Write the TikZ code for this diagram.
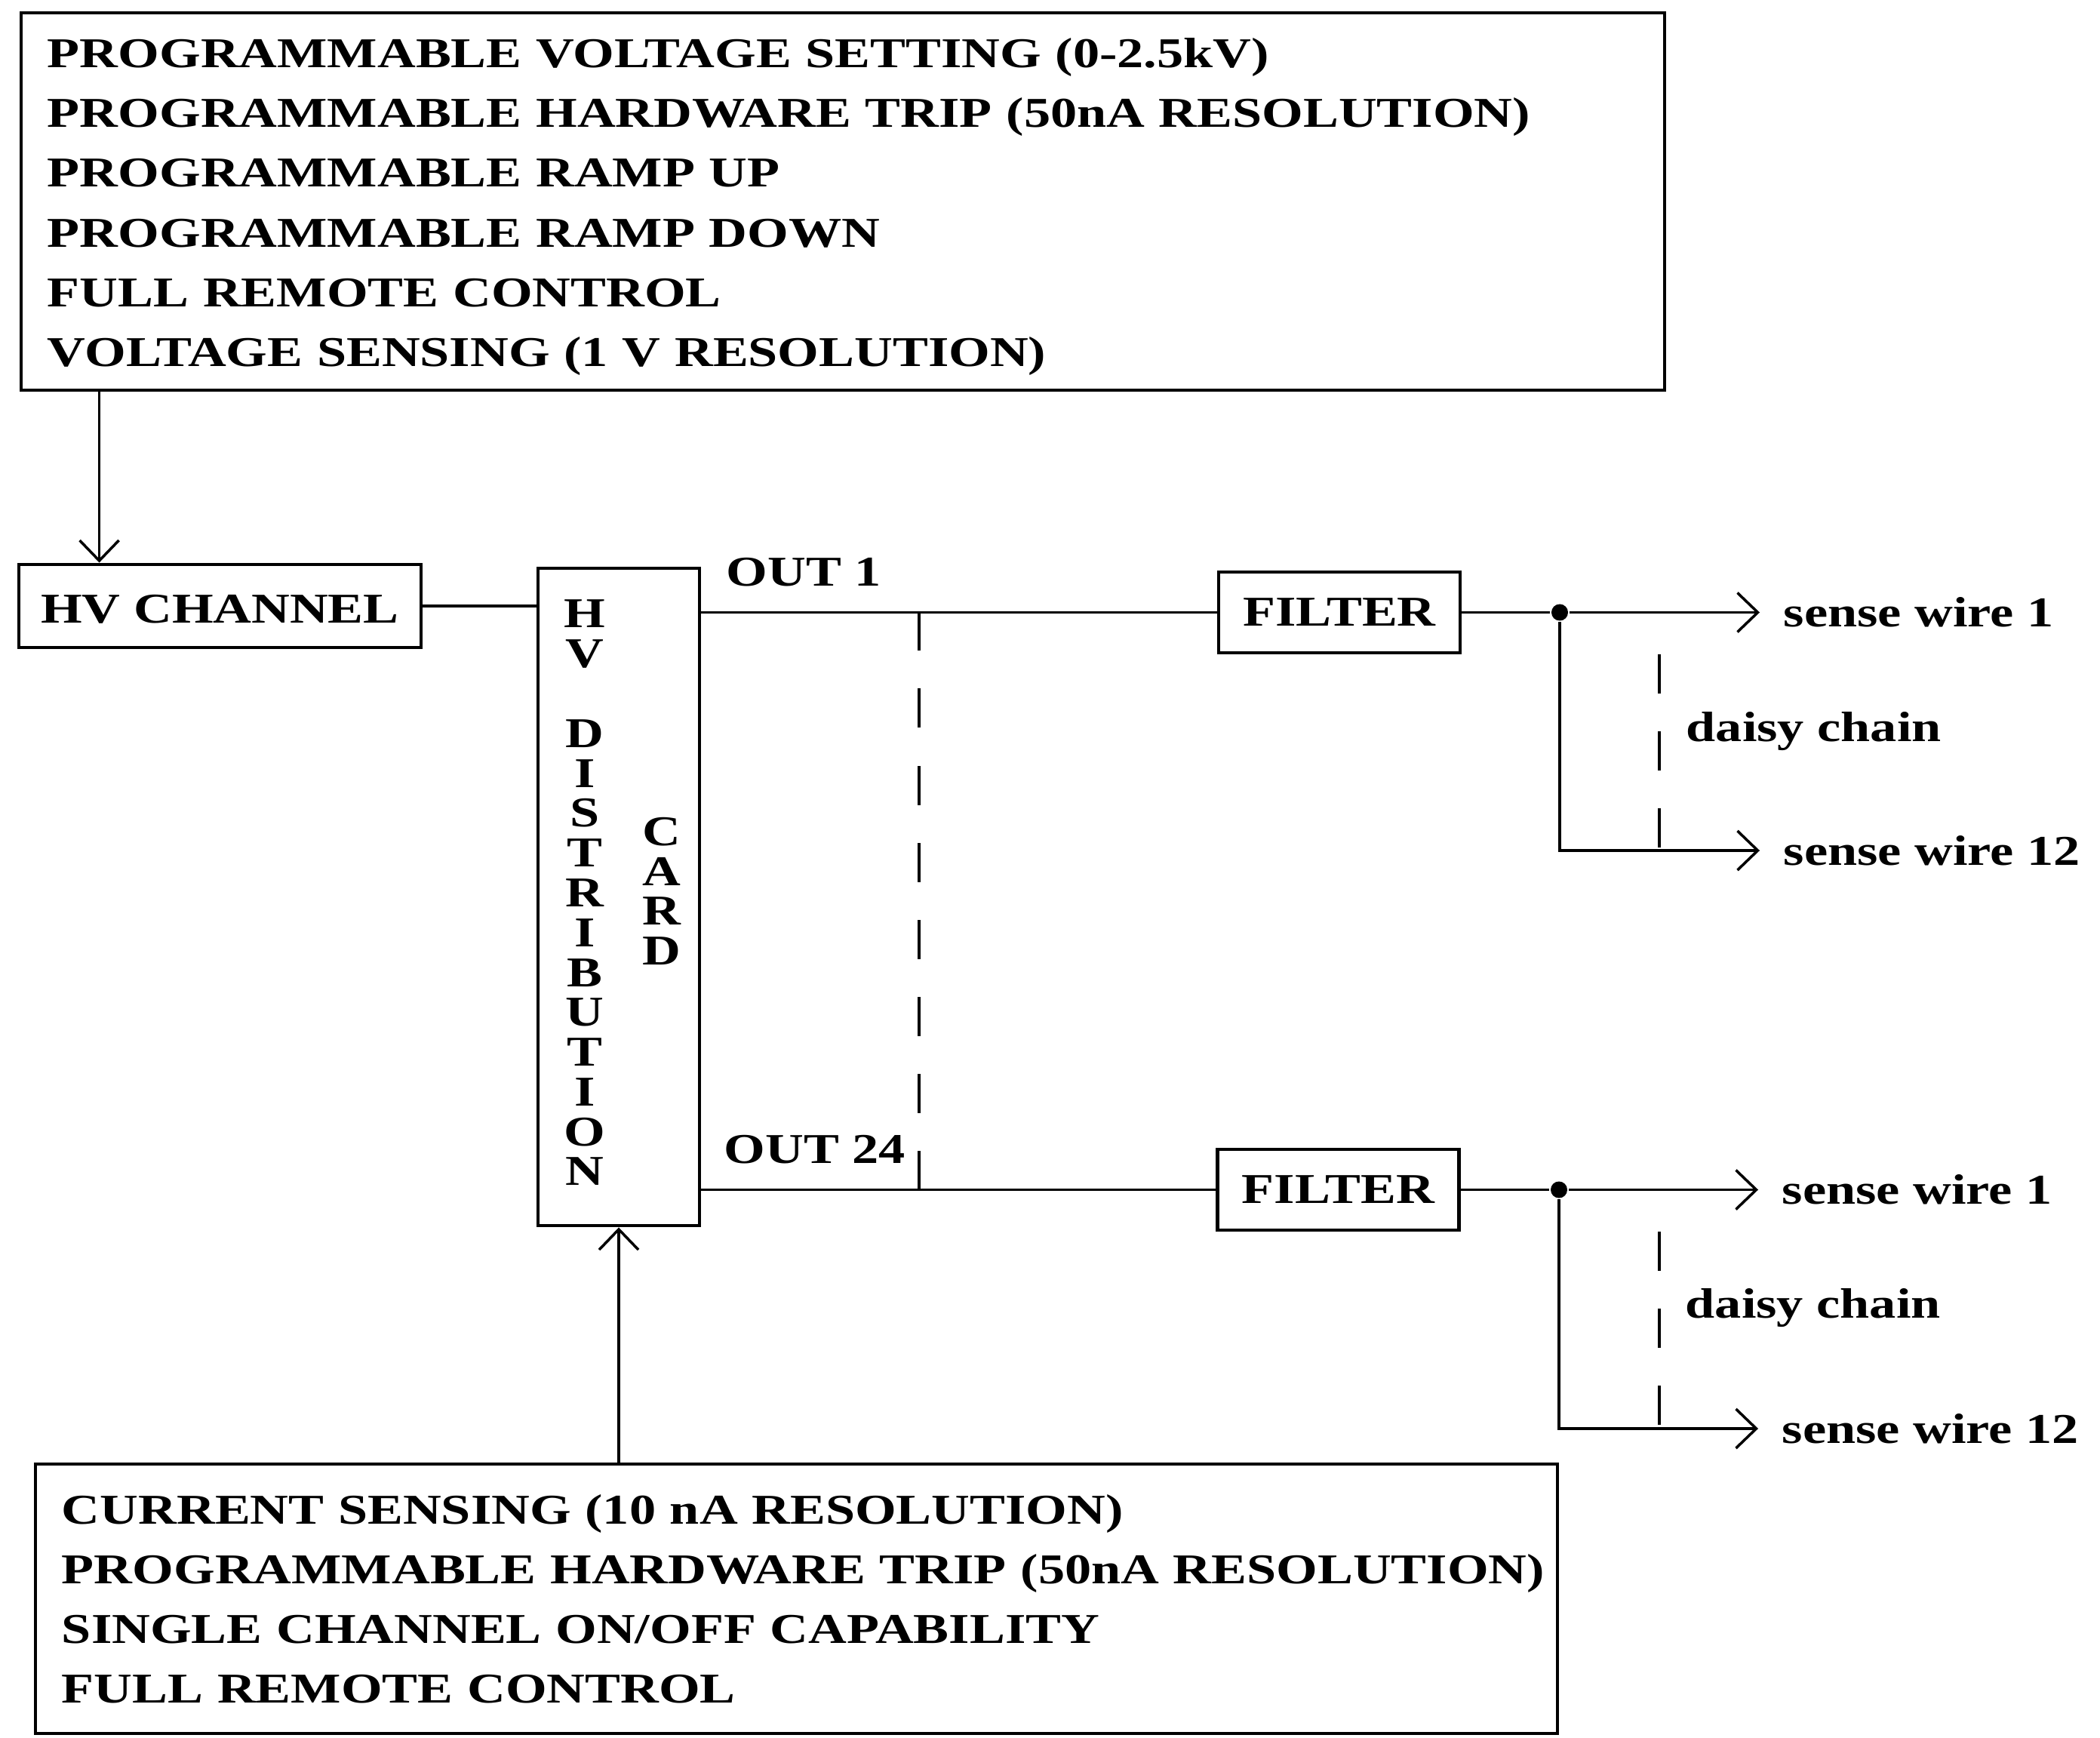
\documentclass[tikz,border=0pt]{standalone}
\usepackage{fontspec}
\setmainfont{Liberation Serif}[FakeStretch=1.25]
\usetikzlibrary{arrows.meta}

\begin{document}
\begin{tikzpicture}[
  txt/.style={font=\bfseries\fontsize{16}{22.5}\selectfont},
  box/.style={draw, line width=1.4pt, txt, inner sep=0pt},
  feat/.style={box, align=left, inner xsep=0.35cm},
  lbl/.style={txt, inner sep=0pt},
  letters/.style={lbl, align=center, font=\bfseries\fontsize{16}{15.02}\selectfont},
  wire/.style={txt, anchor=west, inner sep=0pt, inner xsep=0.3cm},
  dot/.style={circle, fill, inner sep=0pt, minimum size=0.22cm},
  feed/.style={-{Straight Barb[length=0.27cm,width=0.52cm]}},
  chain/.style={dash pattern=on 0.52cm off 0.5cm},
  line width=1pt]

 \useasboundingbox (0,0) rectangle (27.83,23.02);

 \node[feat, text width=21.08cm, text height=0.53cm, minimum height=5cm] (features) at (11.17,20.35)
  {PROGRAMMABLE VOLTAGE SETTING (0-2.5kV)\\
   PROGRAMMABLE HARDWARE TRIP (50nA RESOLUTION)\\
   PROGRAMMABLE RAMP UP\\
   PROGRAMMABLE RAMP DOWN\\
   FULL REMOTE CONTROL\\
   VOLTAGE SENSING (1 V RESOLUTION)};
 \node[box, minimum width=5.33cm, minimum height=1.1cm, text height=0.45cm] (hvch) at (2.915,14.99) {HV CHANNEL};
 \node[box, minimum width=2.14cm, minimum height=8.71cm] (card) at (8.2,11.135) {};
 \node[letters] (distr) at (7.75,11.19) {H\\V\\\mbox{}\\D\\I\\S\\T\\R\\I\\B\\U\\T\\I\\O\\N};
 \node[letters] (cardlbl) at (8.77,11.21) {C\\A\\R\\D};
 \node[box, minimum width=3.2cm, minimum height=1.07cm] (filter1) at (17.75,14.905) {FILTER};
 \node[box, minimum width=3.2cm, minimum height=1.07cm] (filter2) at (17.735,7.255) {FILTER};
 \node[lbl, anchor=base west] (out1) at (9.61,15.25) {OUT 1};
 \node[lbl, anchor=base west] (out24) at (9.58,7.61) {OUT 24};
 \node[dot] (j1) at (20.67,14.905) {};
 \node[dot] (j2) at (20.66,7.255) {};
 \node[wire] (sw1a) at (23.32,14.905) {sense wire 1};
 \node[wire] (sw12a) at (23.32,11.75) {sense wire 12};
 \node[wire] (sw1b) at (23.3,7.255) {sense wire 1};
 \node[wire] (sw12b) at (23.3,4.09) {sense wire 12};
 \node[lbl, anchor=west] (dc1) at (22.33,13.33) {daisy chain};
 \node[lbl, anchor=west] (dc2) at (22.32,5.69) {daisy chain};
 \node[feat, text width=19.47cm, minimum height=3.57cm] (ctrl) at (10.555,1.835)
  {CURRENT SENSING (10 nA RESOLUTION)\\
   \mbox{PROGRAMMABLE HARDWARE TRIP (50nA RESOLUTION)}\\
   SINGLE CHANNEL ON/OFF CAPABILITY\\
   FULL REMOTE CONTROL};

 \coordinate (vin) at ([xshift=1.09cm]hvch.north west);
 \draw[feed] (vin |- features.south) -- (vin);
 \draw (hvch.east) -- (hvch.east -| card.west);
 \draw (card.east |- filter1.west) -- (filter1.west);
 \draw (card.east |- filter2.west) -- (filter2.west);
 \draw[feed] (card.south |- ctrl.north) -- (card.south);
 \coordinate (tap) at (12.18,7.255);
 \draw[chain] (tap) -- (tap |- filter1);

 \draw (filter1.east) -- (j1);
 \draw[feed] (j1) -- (sw1a.west);
 \draw[feed] (j1) |- (sw12a.west);
 \coordinate (dk1) at (21.99,14.35);
 \draw[chain] (dk1) -- (dk1 |- sw12a.west);

 \draw (filter2.east) -- (j2);
 \draw[feed] (j2) -- (sw1b.west);
 \draw[feed] (j2) |- (sw12b.west);
 \coordinate (dk2) at (21.99,6.7);
 \draw[chain] (dk2) -- (dk2 |- sw12b.west);
\end{tikzpicture}
\end{document}
